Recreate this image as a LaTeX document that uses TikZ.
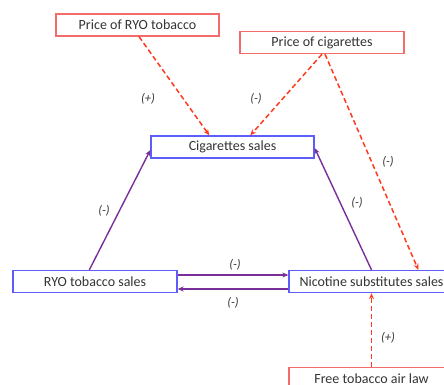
\documentclass[tikz,border=0pt]{standalone}
\usepackage{fontspec}
\setmainfont{Carlito}
\usepackage{xcolor}
\usetikzlibrary{arrows.meta}
\definecolor{boxred}{HTML}{F36B6B}
\definecolor{linered}{HTML}{FF3A1E}
\definecolor{boxblue}{HTML}{5D5DFB}
\definecolor{linepurple}{HTML}{7A2E9A}
\definecolor{txtgray}{HTML}{333333}

\begin{document}
\begin{tikzpicture}[x=1pt,y=-1pt,
	factor/.style={draw=boxred,line width=1.3pt,minimum width=163pt,minimum height=22pt,inner sep=0pt,text=txtgray,font=\fontsize{14}{16}\selectfont},
	sales/.style={draw=boxblue,line width=1.3pt,minimum width=164pt,minimum height=22pt,inner sep=0pt,text=txtgray,font=\fontsize{14}{16}\selectfont},
	sign/.style={text=txtgray,font=\fontsize{12.5}{14}\selectfont\itshape,inner sep=0pt},
	effect/.style={linered,line width=1.5pt,dash pattern=on 5pt off 3pt,-{Stealth[length=6pt,width=5pt,open]}},
	link/.style={linepurple,line width=1.4pt,-{Stealth[length=6pt,width=5pt]}}]
			\useasboundingbox (0,0) rectangle (444,385);
			\node[factor] (pryo) at (137.5,25) {Price of RYO tobacco};
			\node[factor,minimum width=164pt] (pcig) at (322,42.5) {Price of cigarettes};
			\node[sales,minimum width=163pt] (cs) at (232.5,147) {Cigarettes sales};
			\node[sales] (ryo) at (95,281.5) {RYO tobacco sales};
			\node[sales,minimum width=165pt] (nic) at (371.5,281.5) {Nicotine substitutes sales};
			\node[factor,minimum width=165pt] (law) at (371.5,378.5) {Free tobacco air law};
			\draw[effect] ([xshift=1.5pt]pryo.south) -- ([xshift=59pt]cs.north west);
			\draw[effect] (pcig.south) -- ([xshift=100pt]cs.north west);
			\draw[effect] ([xshift=3pt]pcig.south) -- ([xshift=130pt]nic.north west);
			\draw[effect] (law.north) -- (nic.south);
			\draw[link] ([xshift=77pt]ryo.north west) -- ([yshift=-3pt]cs.west);
			\draw[link] (nic.north) -- ([yshift=-1pt]cs.east);
			\draw[link] ([yshift=6.5pt]ryo.east) -- ([yshift=6.5pt]nic.west);
			\draw[link] ([yshift=-7.5pt]nic.west) -- ([yshift=-7.5pt]ryo.east);
			\node[sign] (s1) at (148,99) {(+)};
			\node[sign] (s2) at (256,99) {(-)};
			\node[sign] (s3) at (388,162) {(-)};
			\node[sign] (s4) at (104,211) {(-)};
			\node[sign] (s5) at (357,203) {(-)};
			\node[sign] (s6) at (235,265) {(-)};
			\node[sign] (s7) at (233,303) {(-)};
			\node[sign] (s8) at (388,338) {(+)};
		\end{tikzpicture}
\end{document}
